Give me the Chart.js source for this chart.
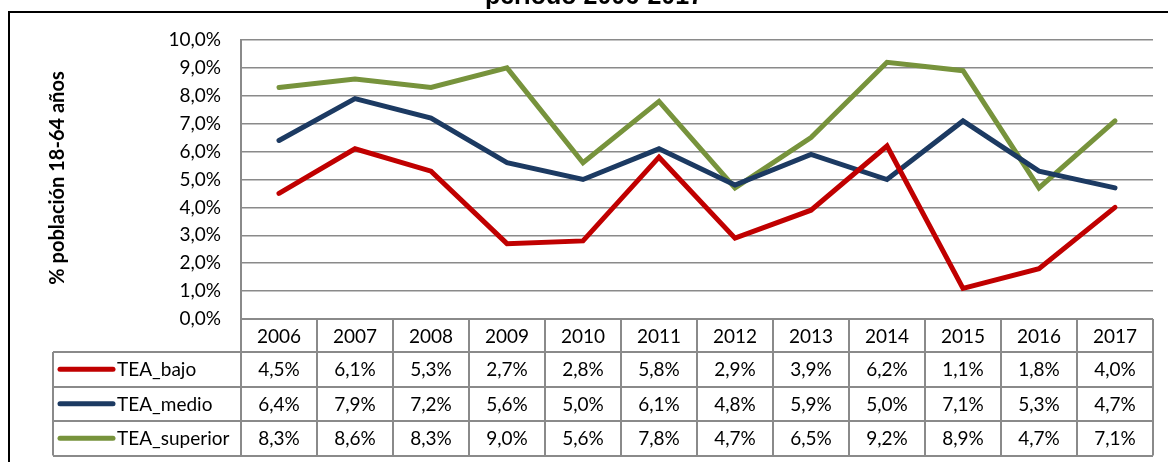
<!DOCTYPE html>
<html>
<head>
<meta charset="utf-8">
<script src="https://cdn.jsdelivr.net/npm/chart.js@4/dist/chart.umd.min.js"></script>
<style>
  html, body { margin: 0; padding: 0; background: #fff; }
  #wrap { width: 1168px; height: 462px; position: relative; }
</style>
</head>
<body>
<div id="wrap"><canvas id="chart-tea"></canvas></div>
<script>
/* ── Datos ── */
const years       = ['2006','2007','2008','2009','2010','2011','2012','2013','2014','2015','2016','2017'];
const teaBajo     = [4.5, 6.1, 5.3, 2.7, 2.8, 5.8, 2.9, 3.9, 6.2, 1.1, 1.8, 4.0];
const teaMedio    = [6.4, 7.9, 7.2, 5.6, 5.0, 6.1, 4.8, 5.9, 5.0, 7.1, 5.3, 4.7];
const teaSuperior = [8.3, 8.6, 8.3, 9.0, 5.6, 7.8, 4.7, 6.5, 9.2, 8.9, 4.7, 7.1];
const seriesNames = ['TEA_bajo', 'TEA_medio', 'TEA_superior'];
const yMin = 0, yMax = 10, yStep = 1;

const FONT = 'Lato, "Open Sans", sans-serif';
const GRID = '#8a8a8a';
const colors = ['#c00000', '#1c3a62', '#77933c'];

const pct = v => v.toFixed(1).replace('.', ',') + '%';

/* ── Tabla de datos, marco y títulos ── */
const extras = {
  id: 'extras',
  afterDraw(chart) {
    const { ctx, chartArea: a, scales: { x } } = chart;
    const series = chart.data.datasets;
    const colW = (a.right - a.left) / years.length;
    const headH = 33, rowH = 34.5, legLeft = 53;
    const top = a.bottom, rowsTop = top + headH, tableBottom = rowsTop + rowH * series.length;

    ctx.save();
    ctx.strokeStyle = GRID;
    ctx.lineWidth = 2;
    ctx.beginPath();
    // verticales
    for (let i = 0; i <= years.length; i++) {
      const px = Math.round(a.left + i * colW);
      ctx.moveTo(px, i === 0 ? a.top : top);
      ctx.lineTo(px, tableBottom);
    }
    ctx.moveTo(legLeft, rowsTop); ctx.lineTo(legLeft, tableBottom);
    // horizontales
    ctx.moveTo(a.left, top); ctx.lineTo(a.right, top);
    for (let r = 0; r <= series.length; r++) {
      const py = Math.round(rowsTop + r * rowH);
      ctx.moveTo(legLeft, py); ctx.lineTo(a.right, py);
    }
    ctx.stroke();

    ctx.fillStyle = '#000';
    ctx.font = '19px ' + FONT;
    ctx.textAlign = 'center';
    ctx.textBaseline = 'middle';
    years.forEach((yr, i) => ctx.fillText(yr, x.getPixelForValue(i), top + headH / 2 + 1));
    series.forEach((ds, r) => {
      const cy = rowsTop + r * rowH + rowH / 2 + 1;
      ds.data.forEach((v, i) => ctx.fillText(pct(v), x.getPixelForValue(i), cy));
      ctx.strokeStyle = ds.borderColor;
      ctx.lineWidth = 5;
      ctx.lineCap = 'round';
      ctx.beginPath();
      ctx.moveTo(60, cy - 1); ctx.lineTo(113, cy - 1);
      ctx.stroke();
      ctx.textAlign = 'left';
      ctx.fillText(ds.label, 117, cy);
      ctx.textAlign = 'center';
    });

    // marco negro
    ctx.strokeStyle = '#000';
    ctx.lineWidth = 2;
    ctx.lineCap = 'butt';
    ctx.beginPath();
    ctx.moveTo(9, 462); ctx.lineTo(9, 12); ctx.lineTo(1168, 12);
    ctx.stroke();

    // título (cortado arriba)
    ctx.font = 'bold 25px "Liberation Sans", Arial, sans-serif';
    ctx.textBaseline = 'alphabetic';
    ctx.fillText('período 2006-2017', 594, 4);

    // título eje Y
    ctx.translate(58, 178);
    ctx.rotate(-Math.PI / 2);
    ctx.font = 'bold 20px ' + FONT;
    ctx.textBaseline = 'middle';
    ctx.fillText('% población 18-64 años', 0, 0);
    ctx.restore();
  }
};

const ctx = document.getElementById('chart-tea');
new Chart(ctx, {
  type: 'line',
  data: {
    labels: years,
    datasets: [teaBajo, teaMedio, teaSuperior].map((d, i) => ({
      label: seriesNames[i],
      data: d,
      borderColor: colors[i],
      backgroundColor: colors[i],
      borderWidth: 5,
      borderCapStyle: 'round',
      pointRadius: 0,
      tension: 0,
      fill: false
    }))
  },
  options: {
    responsive: true, maintainAspectRatio: false, animation: false,
    layout: { padding: { left: 0, top: 40, right: 15, bottom: 143 } },
    plugins: { legend: { display: false }, tooltip: { enabled: false } },
    scales: {
      x: { type: 'category', offset: true, display: false },
      y: {
        min: yMin, max: yMax,
        ticks: { stepSize: yStep, callback: v => pct(v), color: '#000', font: { family: FONT, size: 19 }, padding: 20 },
        grid: { color: GRID, lineWidth: 1.5, drawTicks: false },
        border: { display: true, color: GRID, width: 2 },
        afterFit: s => { s.width = 241; }
      }
    }
  },
  plugins: [extras]
});
</script>
</body>
</html>
